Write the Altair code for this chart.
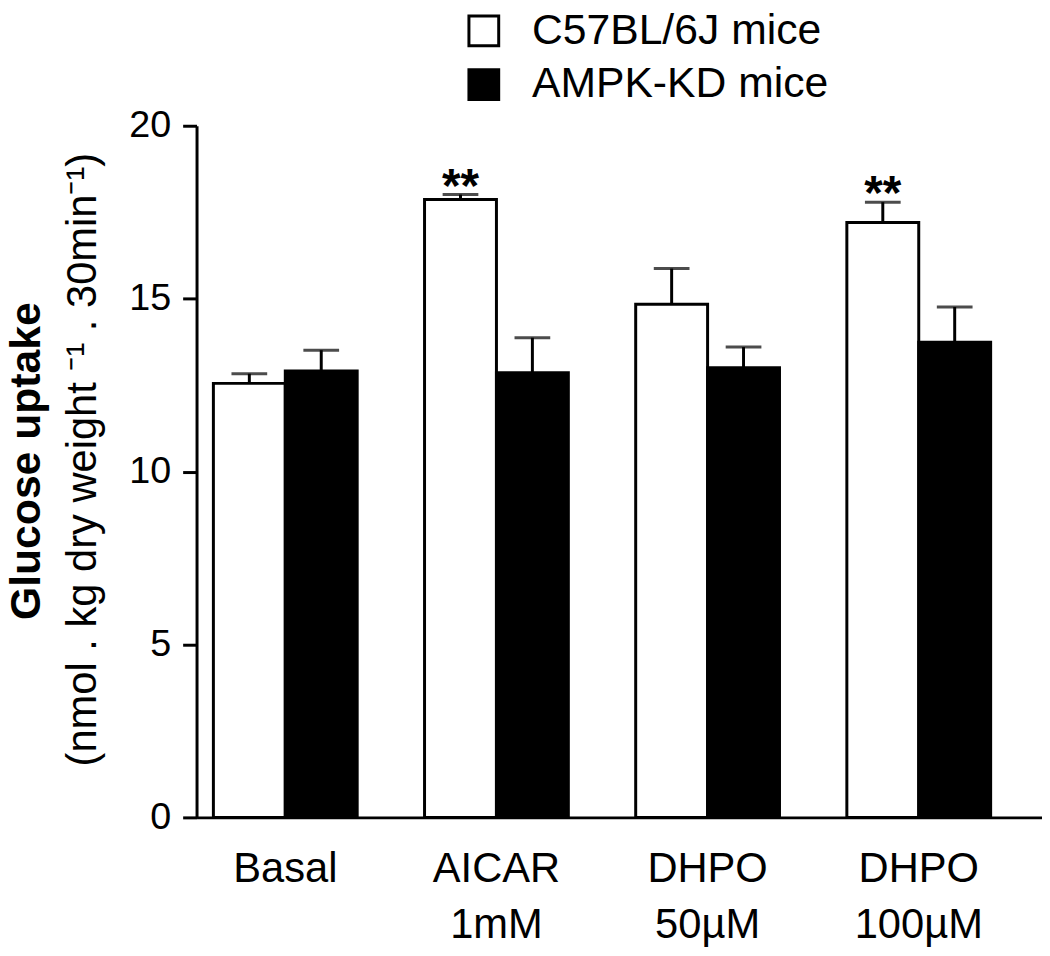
import altair as alt
import pandas as pd

# ---- data ----
conditions = ["Basal", "AICAR|1mM", "DHPO|50µM", "DHPO|100µM"]
groups = ["C57BL/6J mice", "AMPK-KD mice"]
wt_mean = [12.55, 17.87, 14.84, 17.20]
wt_se = [0.28, 0.14, 1.03, 0.59]
kd_mean = [12.91, 12.86, 13.00, 13.74]
kd_se = [0.60, 1.01, 0.60, 1.02]
wt_sig = ["", "**", "", "**"]
kd_sig = ["", "", "", ""]
y_ticks = [0, 5, 10, 15, 20]

rows = []
for i, c in enumerate(conditions):
    rows.append({"cond": c, "group": groups[0], "mean": wt_mean[i], "se": wt_se[i], "sig": wt_sig[i]})
    rows.append({"cond": c, "group": groups[1], "mean": kd_mean[i], "se": kd_se[i], "sig": kd_sig[i]})
df = pd.DataFrame(rows)
df["upper"] = df["mean"] + df["se"]

FONT = "Liberation Sans"
W, H = 852, 697

x_enc = alt.X(
    "cond:N",
    sort=conditions,
    scale=alt.Scale(paddingInner=0.319, paddingOuter=0.1615, align=0.247),
    axis=alt.Axis(
        title=None, labelAngle=0, ticks=False, grid=False, domainWidth=3, domainColor="black",
        labelFontSize=42, labelFont=FONT, labelColor="black",
        labelExpr="split(datum.label, '|')", labelLineHeight=56,
        labelPadding=32, labelBaseline="top",
    ),
)
xo_enc = alt.XOffset("group:N", sort=groups, scale=alt.Scale(paddingInner=0, paddingOuter=0))
y_scale = alt.Scale(domain=[0, 20], nice=False, zero=True)

base = alt.Chart(df)

bars = base.mark_bar(stroke="black", strokeWidth=3).encode(
    x=x_enc,
    xOffset=xo_enc,
    y=alt.Y(
        "mean:Q",
        scale=y_scale,
        axis=alt.Axis(
            values=y_ticks, grid=False, tickSize=14, tickWidth=3, tickColor="black",
            domainWidth=3, domainColor="black", labelFontSize=38, labelFont=FONT,
            labelColor="black", labelPadding=12,
            title="(nmol . kg dry weight ⁻¹ . 30min⁻¹)",
            titleFont=FONT, titleFontSize=42, titleFontWeight="normal", titleColor="black",
            titleAngle=270, titleAlign="center", titleBaseline="middle",
            titleX=-115, titleY=336,
        ),
    ),
    fill=alt.Fill(
        "group:N",
        sort=groups,
        scale=alt.Scale(domain=groups, range=["white", "black"]),
        legend=alt.Legend(
            title=None, orient="none", legendX=268, legendY=-117,
            symbolType="square", symbolSize=900, symbolStrokeColor="black",
            symbolStrokeWidth=3, labelFontSize=43, labelFont=FONT, labelColor="black",
            labelOffset=27, rowPadding=10, padding=0, labelLimit=0,
        ),
    ),
)

err = base.mark_rule(color="black", strokeWidth=3).encode(
    x=x_enc, xOffset=xo_enc,
    y=alt.Y("mean:Q", scale=y_scale), y2="upper:Q",
)

caps = base.mark_tick(color="black", thickness=3, size=36).encode(
    x=x_enc, xOffset=xo_enc,
    y=alt.Y("upper:Q", scale=y_scale),
)

stars = base.transform_filter("datum.sig != ''").mark_text(
    font=FONT, fontSize=48, fontWeight="bold", color="black",
    baseline="alphabetic", dy=7,
).encode(
    x=x_enc, xOffset=xo_enc,
    y=alt.Y("upper:Q", scale=y_scale),
    text="sig:N",
)

title_df = pd.DataFrame({"t": ["Glucose uptake"]})
ytitle = alt.Chart(title_df).mark_text(
    font=FONT, fontSize=43, fontWeight="bold", color="black",
    angle=270, align="center", baseline="middle",
).encode(x=alt.value(-171), y=alt.value(338), text="t:N")

chart = alt.layer(bars, err, caps, stars, ytitle).properties(
    width=W, height=H,
    background="white",
    autosize=alt.AutoSizeParams(type="none"),
    padding={"left": 190, "top": 115, "right": 0, "bottom": 132},
).configure_view(stroke=None).configure_axis(grid=False)

chart.save("out.html", embed_options={"renderer": "svg", "actions": False})
